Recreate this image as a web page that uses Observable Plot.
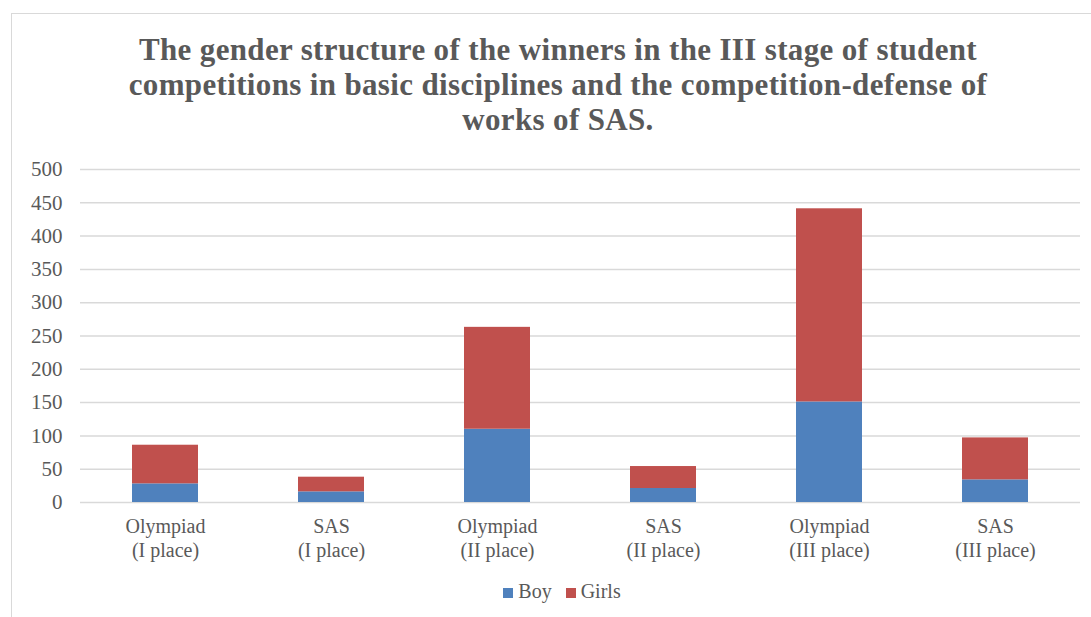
<!DOCTYPE html>
<html><head><meta charset="utf-8">
<script src="https://cdn.jsdelivr.net/npm/d3@7"></script>
<script src="https://cdn.jsdelivr.net/npm/@observablehq/plot@0.6"></script>
<style>
body{margin:0;width:1091px;height:617px;overflow:hidden;background:#fff;font-family:"Liberation Serif","Times New Roman",serif;}
#wrap{position:relative;width:1091px;height:617px;}
#frame{position:absolute;left:11px;top:13px;width:1100px;height:640px;border:1.5px solid #d9d9d9;box-sizing:border-box;}
#title{position:absolute;left:0;top:32px;width:1116px;text-align:center;font-weight:bold;font-size:31px;letter-spacing:0.35px;line-height:35px;color:#595959;}
#chart{position:absolute;left:0;top:150px;}
#legend{position:absolute;left:0;top:580px;width:1124px;text-align:center;font-size:20px;color:#595959;}
#legend span.sw{display:inline-block;width:10px;height:10px;margin-right:5px;}
#legend span.item{margin:0 7px;}
</style></head>
<body><div id="wrap"><div id="frame"></div>
<div id="title">The gender structure of the winners in the III stage of student<br>competitions in basic disciplines and the competition-defense of<br>works of SAS.</div>
<div id="chart"></div>
<div id="legend"></div>
</div>
<script>
const categories = ["Olympiad\n(I place)","SAS\n(I place)","Olympiad\n(II place)","SAS\n(II place)","Olympiad\n(III place)","SAS\n(III place)"];
const boy =   [28, 16, 110, 21, 151, 34];
const girls = [58, 22, 153, 33, 290, 63];
const series = ["Boy","Girls"];
const colors = ["#4f81bd","#c0504d"];
const yTicks = [0,50,100,150,200,250,300,350,400,450,500];

const data = [];
categories.forEach((c,i)=>{
  data.push({cat:c, gender:"Boy", value:boy[i]});
  data.push({cat:c, gender:"Girls", value:girls[i]});
});

const chart = Plot.plot({
  width: 1091,
  height: 420,
  marginTop: 19,
  marginBottom: 68,
  marginLeft: 80,
  marginRight: 11,
  style:{fontFamily:"Liberation Serif, Times New Roman, serif", fontSize:"20px", color:"#595959", background:"transparent"},
  x:{domain:categories, paddingInner:0.6, paddingOuter:0.3, label:null},
  y:{domain:[0,500], label:null},
  color:{domain:series, range:colors},
  marks:[
    Plot.ruleY(yTicks,{stroke:"#d9d9d9", strokeWidth:1.5, strokeOpacity:1}),
    Plot.barY(data, Plot.stackY({x:"cat", y:"value", fill:"gender", order: series})),
    Plot.axisY({ticks:yTicks, tickSize:0, tickPadding:18, fill:"#595959", label:null, fontSize:21}),
    Plot.axisX({tickSize:0, tickPadding:13, fill:"#595959", label:null, lineHeight:1.2})
  ]
});
document.getElementById("chart").appendChild(chart);

const leg = document.getElementById("legend");
series.forEach((s,i)=>{
  const it = document.createElement("span"); it.className="item";
  const sw = document.createElement("span"); sw.className="sw"; sw.style.background=colors[i];
  it.appendChild(sw); it.appendChild(document.createTextNode(s));
  leg.appendChild(it);
});
</script></body></html>
